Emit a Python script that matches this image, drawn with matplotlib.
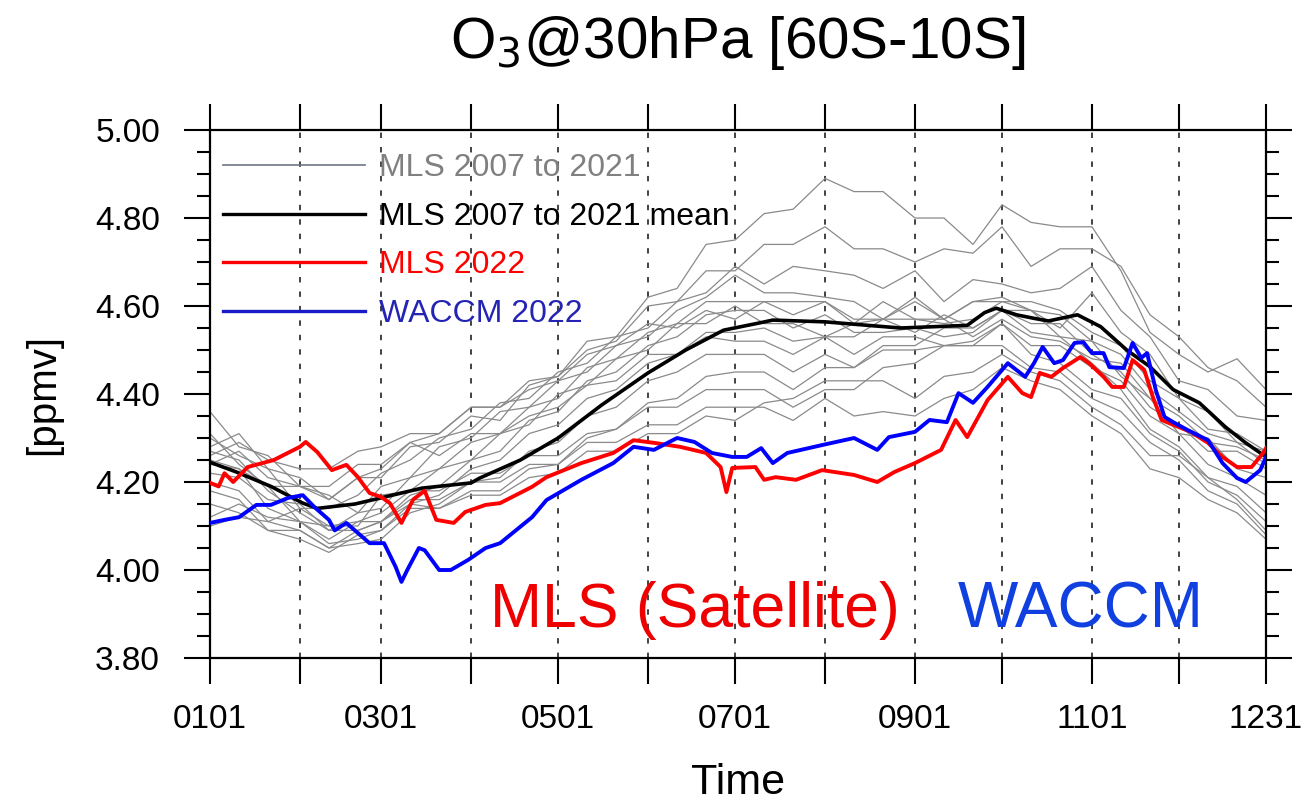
import numpy as np
import matplotlib
matplotlib.use("Agg")
import matplotlib.pyplot as plt
from matplotlib.lines import Line2D
from matplotlib.ticker import MultipleLocator, FixedLocator

plt.rcParams['font.family'] = ['Liberation Sans', 'DejaVu Sans']

# ---- data (day of year, ppmv) ----
month_days = [1, 32, 60, 91, 121, 152, 182, 213, 244, 274, 305, 335, 365]
month_labels = ['0101', '', '0301', '', '0501', '', '0701', '', '0901', '', '1101', '', '1231']

# MLS 2007-2021, individual years (read roughly at ~10 day steps)
gray_days = [1, 11, 21, 32, 42, 52, 60, 70, 80, 91, 101, 111, 121, 131, 141, 152, 162, 172,
             182, 192, 202, 213, 223, 233, 244, 254, 264, 274, 284, 294, 305, 315, 325, 335,
             345, 355, 365]
mls_2007 = [4.28, 4.31, 4.23, 4.21, 4.16, 4.21, 4.21, 4.28, 4.29, 4.35, 4.34, 4.42, 4.44, 4.52, 4.53, 4.62, 4.64, 4.74, 4.75,
            4.81, 4.82, 4.89, 4.86, 4.86, 4.80, 4.80, 4.74, 4.83, 4.79, 4.78, 4.78, 4.68, 4.54, 4.49, 4.45, 4.48, 4.41]
mls_2008 = [4.24, 4.27, 4.21, 4.19, 4.19, 4.24, 4.24, 4.29, 4.31, 4.37, 4.37, 4.43, 4.44, 4.50, 4.52, 4.60, 4.61, 4.68, 4.68,
            4.74, 4.74, 4.78, 4.73, 4.73, 4.70, 4.73, 4.72, 4.78, 4.69, 4.73, 4.73, 4.69, 4.58, 4.53, 4.46, 4.43, 4.37]
mls_2009 = [4.30, 4.26, 4.23, 4.14, 4.14, 4.17, 4.22, 4.25, 4.30, 4.32, 4.38, 4.39, 4.45, 4.47, 4.53, 4.55, 4.61, 4.63, 4.69,
            4.65, 4.69, 4.68, 4.67, 4.64, 4.68, 4.61, 4.66, 4.65, 4.63, 4.64, 4.69, 4.59, 4.53, 4.43, 4.41, 4.35, 4.34]
mls_2010 = [4.36, 4.28, 4.26, 4.19, 4.17, 4.13, 4.19, 4.21, 4.28, 4.30, 4.36, 4.37, 4.43, 4.45, 4.51, 4.53, 4.59, 4.62, 4.67,
            4.63, 4.63, 4.62, 4.61, 4.57, 4.62, 4.57, 4.61, 4.62, 4.59, 4.55, 4.63, 4.54, 4.49, 4.39, 4.36, 4.29, 4.27]
mls_2011 = [4.27, 4.25, 4.18, 4.13, 4.09, 4.13, 4.14, 4.21, 4.23, 4.29, 4.31, 4.37, 4.39, 4.46, 4.48, 4.54, 4.56, 4.61, 4.61,
            4.61, 4.58, 4.61, 4.56, 4.61, 4.57, 4.56, 4.57, 4.61, 4.61, 4.59, 4.54, 4.51, 4.43, 4.39, 4.32, 4.31, 4.27]
mls_2012 = [4.22, 4.21, 4.16, 4.15, 4.09, 4.09, 4.11, 4.17, 4.19, 4.25, 4.27, 4.34, 4.36, 4.43, 4.45, 4.51, 4.53, 4.58, 4.59,
            4.59, 4.55, 4.58, 4.54, 4.54, 4.55, 4.53, 4.54, 4.59, 4.56, 4.56, 4.49, 4.45, 4.37, 4.33, 4.27, 4.27, 4.23]
mls_2013 = [4.25, 4.23, 4.14, 4.11, 4.06, 4.07, 4.09, 4.15, 4.17, 4.23, 4.25, 4.31, 4.33, 4.39, 4.41, 4.47, 4.49, 4.54, 4.54,
            4.55, 4.52, 4.53, 4.49, 4.53, 4.53, 4.51, 4.51, 4.56, 4.51, 4.51, 4.46, 4.43, 4.35, 4.31, 4.24, 4.21, 4.17]
mls_2014 = [4.20, 4.18, 4.11, 4.09, 4.05, 4.06, 4.07, 4.13, 4.15, 4.20, 4.21, 4.27, 4.29, 4.35, 4.37, 4.43, 4.45, 4.49, 4.49,
            4.49, 4.45, 4.49, 4.46, 4.50, 4.50, 4.51, 4.52, 4.56, 4.49, 4.47, 4.41, 4.39, 4.31, 4.27, 4.20, 4.17, 4.11]
mls_2015 = [4.18, 4.16, 4.09, 4.07, 4.04, 4.08, 4.09, 4.14, 4.14, 4.18, 4.18, 4.23, 4.24, 4.30, 4.32, 4.38, 4.39, 4.44, 4.45,
            4.45, 4.41, 4.46, 4.46, 4.51, 4.51, 4.55, 4.55, 4.59, 4.54, 4.53, 4.47, 4.41, 4.32, 4.28, 4.21, 4.16, 4.09]
mls_2016 = [4.12, 4.15, 4.12, 4.11, 4.07, 4.11, 4.13, 4.18, 4.18, 4.22, 4.22, 4.26, 4.26, 4.31, 4.32, 4.37, 4.37, 4.41, 4.41,
            4.41, 4.37, 4.41, 4.41, 4.46, 4.47, 4.51, 4.51, 4.51, 4.46, 4.45, 4.39, 4.36, 4.29, 4.25, 4.18, 4.15, 4.08]
mls_2017 = [4.15, 4.13, 4.09, 4.09, 4.05, 4.09, 4.11, 4.16, 4.16, 4.20, 4.20, 4.24, 4.24, 4.29, 4.29, 4.33, 4.33, 4.37, 4.37,
            4.37, 4.34, 4.39, 4.35, 4.36, 4.35, 4.39, 4.41, 4.46, 4.43, 4.41, 4.35, 4.31, 4.23, 4.21, 4.16, 4.13, 4.07]
mls_2018 = [4.26, 4.29, 4.25, 4.23, 4.23, 4.27, 4.28, 4.31, 4.31, 4.37, 4.37, 4.41, 4.43, 4.49, 4.51, 4.56, 4.55, 4.59, 4.57,
            4.61, 4.61, 4.61, 4.57, 4.57, 4.54, 4.58, 4.55, 4.59, 4.59, 4.58, 4.52, 4.49, 4.41, 4.36, 4.31, 4.29, 4.24]
mls_2019 = [4.24, 4.23, 4.19, 4.19, 4.16, 4.21, 4.23, 4.29, 4.26, 4.31, 4.31, 4.35, 4.37, 4.42, 4.43, 4.49, 4.49, 4.53, 4.52,
            4.52, 4.49, 4.53, 4.53, 4.57, 4.57, 4.57, 4.53, 4.57, 4.53, 4.52, 4.48, 4.47, 4.39, 4.35, 4.29, 4.28, 4.25]
mls_2020 = [4.10, 4.12, 4.11, 4.14, 4.10, 4.11, 4.11, 4.15, 4.14, 4.17, 4.17, 4.21, 4.22, 4.27, 4.27, 4.31, 4.31, 4.35, 4.34,
            4.38, 4.39, 4.43, 4.43, 4.43, 4.39, 4.44, 4.45, 4.49, 4.45, 4.43, 4.37, 4.33, 4.26, 4.26, 4.21, 4.19, 4.13]
mls_2021 = [4.31, 4.24, 4.19, 4.11, 4.10, 4.10, 4.17, 4.18, 4.23, 4.25, 4.31, 4.33, 4.40, 4.42, 4.48, 4.50, 4.56, 4.56, 4.60,
            4.56, 4.56, 4.53, 4.56, 4.57, 4.61, 4.57, 4.61, 4.61, 4.59, 4.53, 4.52, 4.44, 4.39, 4.31, 4.30, 4.23, 4.21]
mls_years = [mls_2007, mls_2008, mls_2009, mls_2010, mls_2011, mls_2012, mls_2013, mls_2014,
             mls_2015, mls_2016, mls_2017, mls_2018, mls_2019, mls_2020, mls_2021]

# MLS 2007-2021 mean
mean_days = [1, 10, 22, 33, 38, 51, 60, 74, 91, 94, 108, 121, 136, 152, 165, 178, 190, 195,
             213, 239, 262, 268, 272, 279, 285, 290, 300, 308, 317, 325, 333, 342, 351, 358, 365]
mls_mean = [4.245, 4.223, 4.19, 4.152, 4.14, 4.15, 4.164, 4.186, 4.198, 4.209, 4.25, 4.30, 4.375, 4.448,
            4.50, 4.545, 4.561, 4.568, 4.564, 4.55, 4.556, 4.585, 4.595, 4.58, 4.572, 4.566, 4.58, 4.553,
            4.50, 4.462, 4.41, 4.38, 4.325, 4.289, 4.257]

# MLS 2022
red_days = [1, 4, 6, 9, 14, 23, 32, 34, 38, 43, 48, 52, 56, 60, 63, 67, 71, 75, 79, 85, 89, 96,
            101, 112, 117, 129, 140, 147, 154, 163, 172, 177, 179, 181, 189, 192, 196, 203, 212,
            223, 231, 237, 244, 253, 258, 262, 269, 276, 281, 284, 287, 291, 295, 301, 304, 309,
            312, 316, 319, 323, 326, 329, 333, 339, 345, 350, 355, 360, 364, 365]
mls_2022 = [4.198, 4.19, 4.22, 4.20, 4.234, 4.25, 4.28, 4.291, 4.268, 4.227, 4.239, 4.211, 4.175,
            4.166, 4.152, 4.107, 4.16, 4.18, 4.114, 4.107, 4.132, 4.148, 4.152, 4.189, 4.211, 4.243,
            4.266, 4.295, 4.289, 4.28, 4.266, 4.234, 4.177, 4.232, 4.234, 4.205, 4.211, 4.205, 4.227,
            4.216, 4.20, 4.223, 4.243, 4.273, 4.341, 4.302, 4.386, 4.439, 4.402, 4.393, 4.448, 4.439,
            4.459, 4.484, 4.47, 4.439, 4.416, 4.416, 4.477, 4.455, 4.393, 4.341, 4.33, 4.314, 4.289,
            4.257, 4.234, 4.234, 4.266, 4.277]

# WACCM 2022
blue_days = [1, 6, 11, 17, 22, 28, 33, 37, 42, 44, 48, 56, 61, 65, 67, 69, 73, 75, 80, 84, 90,
             96, 101, 112, 117, 129, 140, 147, 154, 162, 168, 174, 181, 186, 191, 195, 200, 212,
             223, 231, 235, 244, 249, 255, 259, 264, 269, 276, 282, 285, 288, 292, 295, 299, 302,
             305, 309, 311, 316, 319, 322, 324, 327, 330, 333, 338, 345, 350, 355, 358, 363, 365]
waccm_2022 = [4.107, 4.114, 4.12, 4.148, 4.148, 4.164, 4.17, 4.143, 4.114, 4.09, 4.107, 4.061,
              4.061, 4.007, 3.973, 4.0, 4.05, 4.045, 4.0, 4.0, 4.023, 4.05, 4.061, 4.12, 4.159,
              4.205, 4.243, 4.28, 4.273, 4.30, 4.291, 4.266, 4.257, 4.257, 4.277, 4.243, 4.266,
              4.284, 4.30, 4.273, 4.302, 4.314, 4.341, 4.336, 4.402, 4.38, 4.416, 4.47, 4.439,
              4.47, 4.507, 4.47, 4.477, 4.516, 4.518, 4.493, 4.493, 4.461, 4.459, 4.516, 4.482,
              4.493, 4.409, 4.348, 4.336, 4.318, 4.295, 4.243, 4.209, 4.20, 4.227, 4.257]

fig = plt.figure(figsize=(13.14, 8.05), dpi=100)
ax = fig.add_axes([0.1598, 0.1826, 0.8037, 0.6559])

for yr in mls_years:
    ax.plot(gray_days, yr, color='#8a8a8a', lw=0.9, zorder=2)
ax.plot(mean_days, mls_mean, color='black', lw=2.6, zorder=4)
ax.plot(red_days, mls_2022, color='#ff0000', lw=2.8, zorder=5)
ax.plot(blue_days, waccm_2022, color='#0000ff', lw=2.8, zorder=6)

ax.set_xlim(1, 365)
ax.set_ylim(3.8, 5.0)

ax.xaxis.set_major_locator(FixedLocator(month_days))
ax.set_xticklabels(month_labels)
ax.yaxis.set_major_locator(MultipleLocator(0.2))
ax.yaxis.set_minor_locator(MultipleLocator(0.05))
ax.yaxis.set_major_formatter(plt.FormatStrFormatter('%.2f'))

for d in month_days[1:-1]:
    ax.axvline(d, color='#333333', lw=1.3, ls=(0, (3, 5)), zorder=1)

ax.tick_params(axis='both', which='major', direction='out', length=19, width=1.5,
               labelsize=24, top=True, right=True)
ax.tick_params(axis='y', which='minor', direction='out', length=9.5, width=1.5, right=True)
ax.tick_params(axis='x', pad=14)
ax.tick_params(axis='y', pad=17)
for s in ax.spines.values():
    s.set_linewidth(1.6)

ax.set_xlabel('Time', fontsize=31, labelpad=20)
ax.set_ylabel('[ppmv]', fontsize=29, labelpad=24)
fig.text(0.5617, 0.947, r'O$_3$@30hPa [60S-10S]', fontsize=42, ha='center', va='center')

handles = [Line2D([], [], color='#6e7584', lw=1.2),
           Line2D([], [], color='black', lw=2.4),
           Line2D([], [], color='#ff0000', lw=2.4),
           Line2D([], [], color='#1a1ac8', lw=2.4)]
labels = ['MLS 2007 to 2021', 'MLS 2007 to 2021 mean', 'MLS 2022', 'WACCM 2022']
leg = ax.legend(handles, labels, loc='upper left', bbox_to_anchor=(0.012, 0.956),
                frameon=False, fontsize=23, handlelength=4.45, handletextpad=0.45,
                labelspacing=0.58, borderpad=0, borderaxespad=0,
                labelcolor=['#808080', 'black', '#ff0000', '#2323b4'])
leg.set_zorder(10)

ax.text(0.265, 0.09, 'MLS (Satellite)', transform=ax.transAxes, fontsize=45,
        color='#ee0000', va='center', ha='left')
ax.text(0.708, 0.09, 'WACCM', transform=ax.transAxes, fontsize=46,
        color='#1040e0', va='center', ha='left')

fig.savefig('out.png', dpi=100)
